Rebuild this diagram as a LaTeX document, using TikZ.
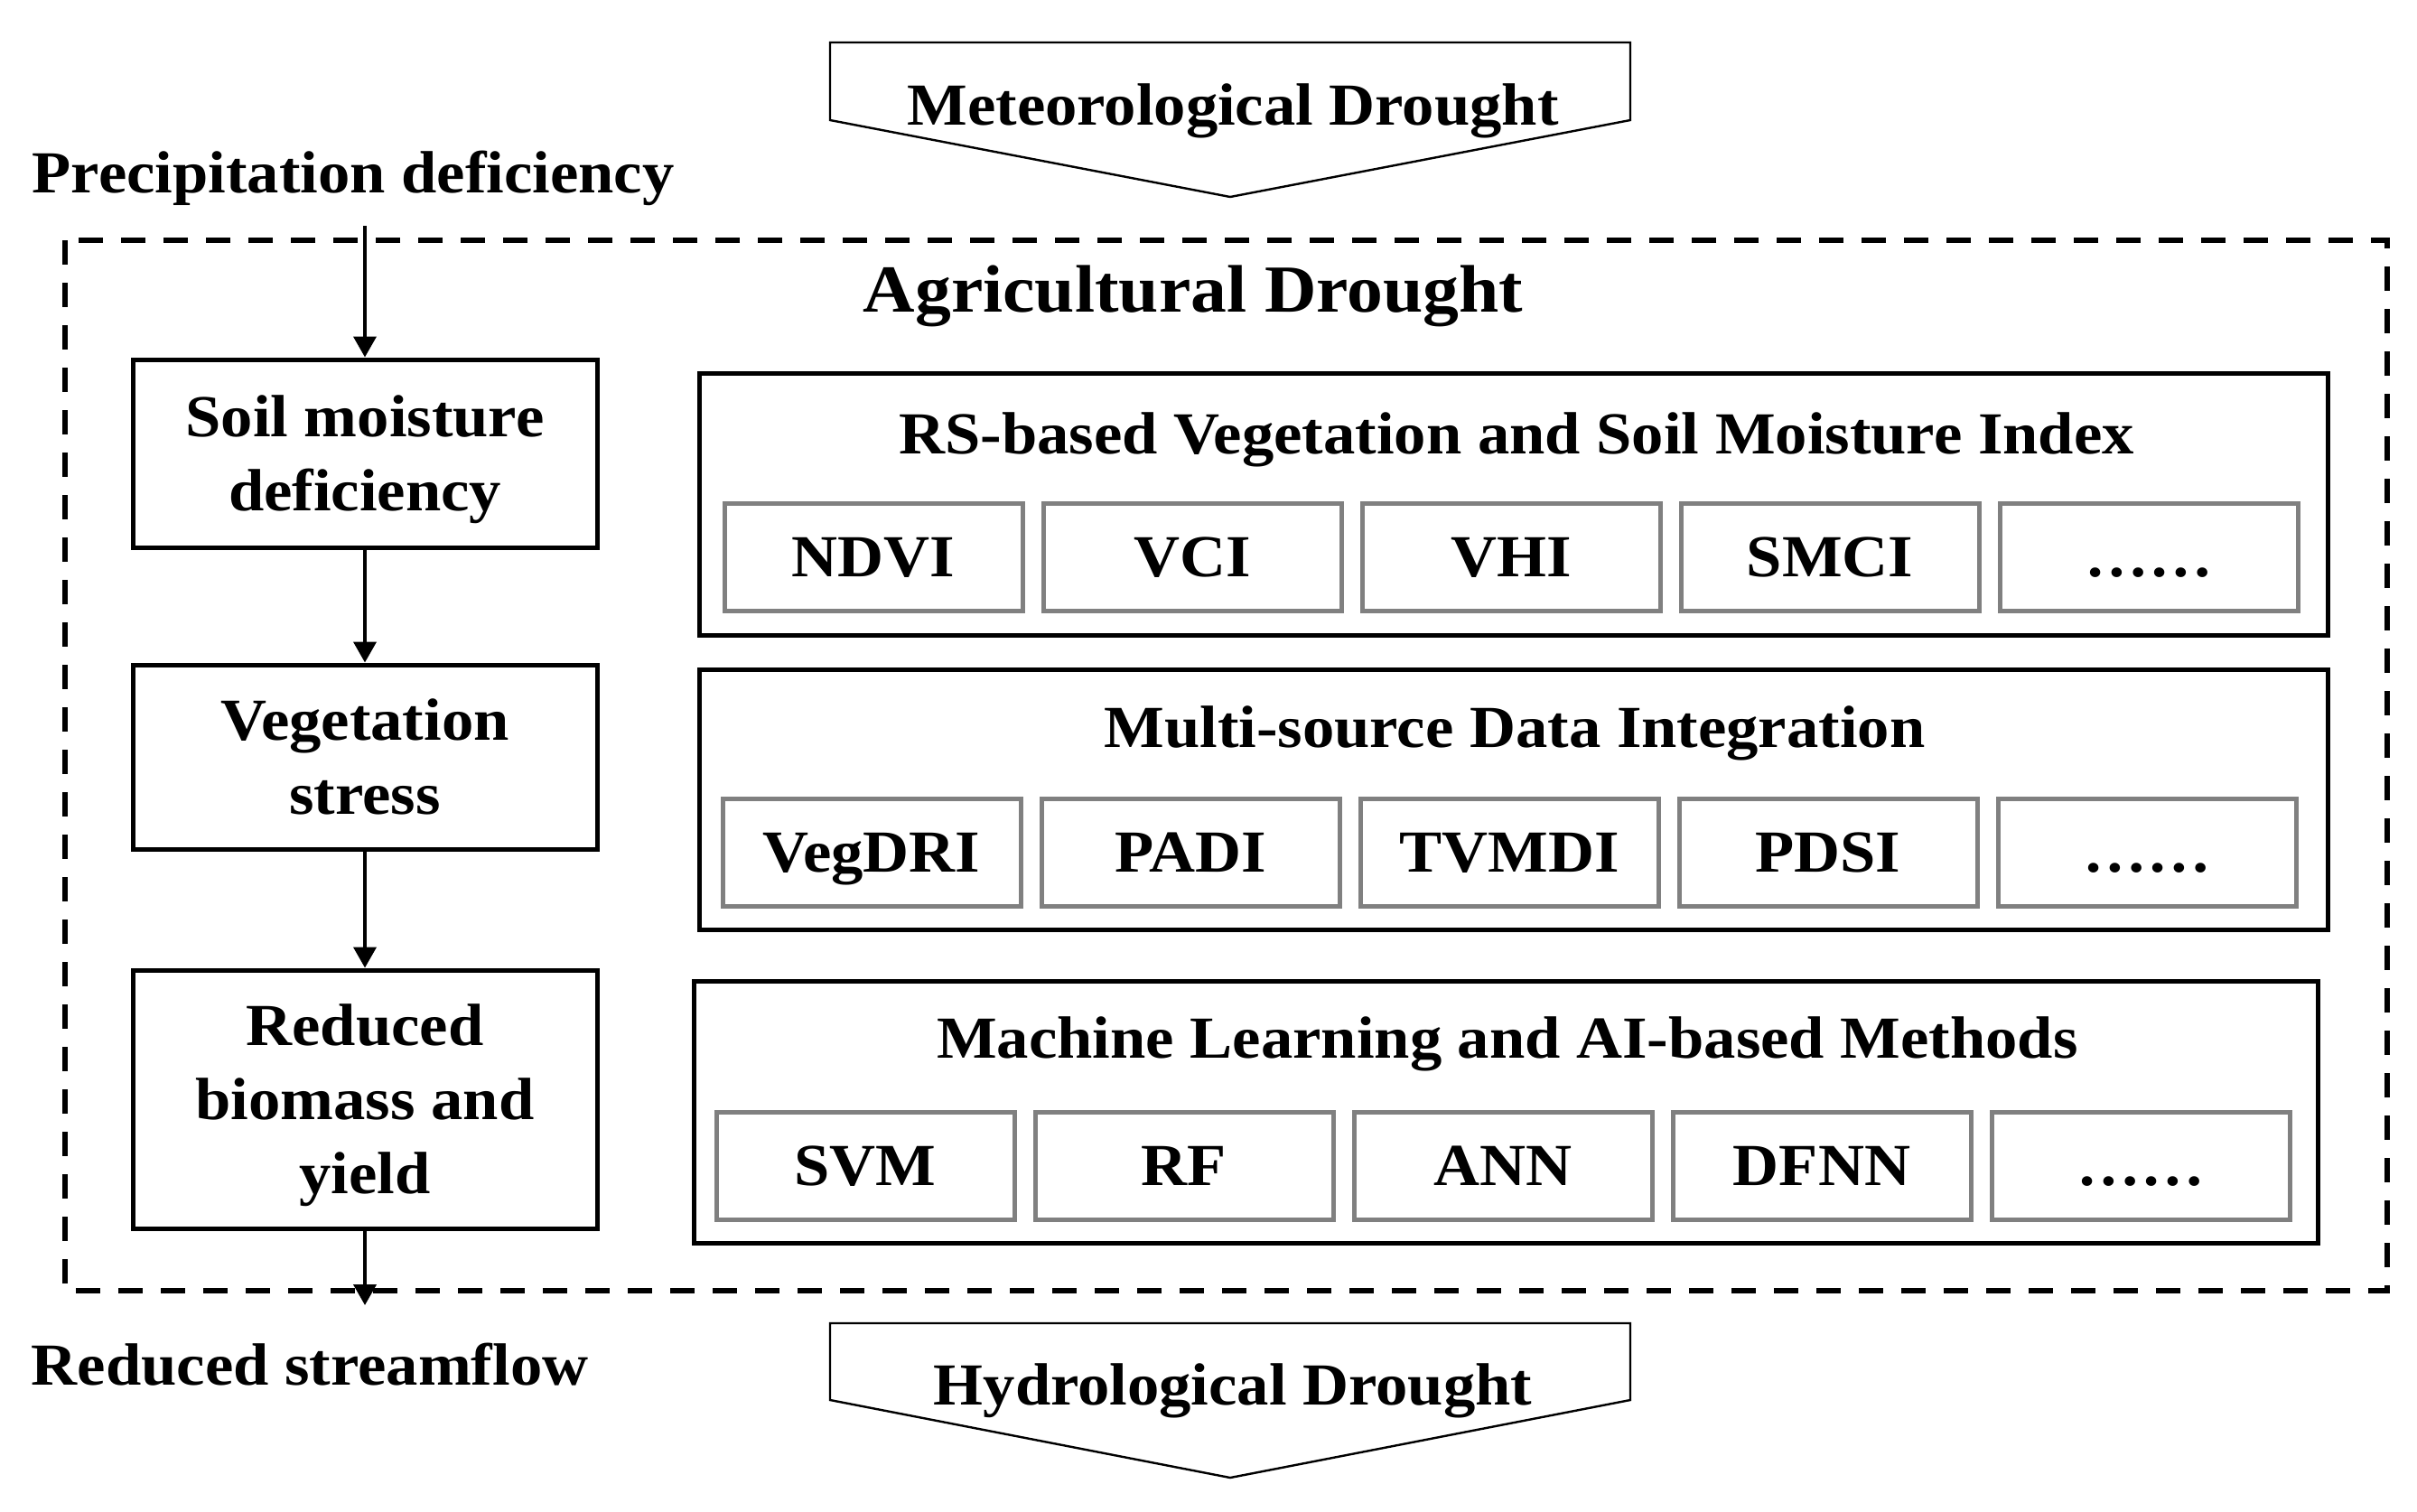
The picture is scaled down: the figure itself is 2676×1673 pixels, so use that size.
\documentclass[tikz,border=0pt]{standalone}
\usepackage{fontspec}
\setmainfont{Liberation Serif}[FakeStretch=1.07]
\usetikzlibrary{arrows.meta}
\definecolor{boxgray}{HTML}{808080}
\begin{document}
\begin{tikzpicture}[x=0.25pt, y=-0.25pt,
  font=\bfseries\fontsize{16.5}{20.5}\selectfont,
  leftbox/.style={draw, line width=1.25pt, minimum width=128.5pt, align=center, inner sep=0pt},
  groupbox/.style={draw, line width=1.25pt, inner sep=0pt},
  itembox/.style={draw=boxgray, line width=1.25pt, minimum width=82.5pt, minimum height=29.75pt,
    inner sep=0pt, text height=10.9pt, text depth=0pt},
  flowarrow/.style={-{Triangle[width=6.25pt,length=5.75pt]}, line width=1pt},
  pentline/.style={draw, line width=0.6pt},
  dashbox/.style={draw, line width=1.3pt, dash pattern=on 6.75pt off 5pt},
  bigfont/.style={font=\bfseries\fontsize{18.6}{22}\selectfont}
]
\useasboundingbox (0,0) rectangle (2676,1673);

% top and bottom drought pentagons
\draw[pentline] (919,47) -- (1805,47) -- (1805,133) -- (1362,218) -- (919,133) -- cycle;
\node[anchor=base] (met) at (1365,138) {Meteorological Drought};
\draw[pentline] (919,1465) -- (1805,1465) -- (1805,1550) -- (1362,1636) -- (919,1550) -- cycle;
\node[anchor=base] (hyd) at (1365,1555) {Hydrological Drought};

% side labels
\node[anchor=base west, inner sep=0pt] (prec) at (35,213) {Precipitation deficiency};
\node[anchor=base west, inner sep=0pt] (stream) at (34,1533) {Reduced streamflow};

% dashed frame
\draw[dashbox] (72,266) rectangle (2643,1429);
\node[anchor=base, bigfont] (agri) at (1321,345) {Agricultural Drought};

% left chain
\node[leftbox, minimum height=52pt, text depth=0pt] (b1) at (404,502) {Soil moisture\\deficiency};
\node[leftbox, minimum height=51pt] (b2) at (404,838) {Vegetation\\stress};
\node[leftbox, minimum height=71.5pt, text depth=0pt] (b3) at (404,1217) {Reduced\\biomass and\\yield};
\coordinate (a0) at (404,250);
\coordinate (a4) at (404,1445);
\draw[flowarrow] (a0) -- (b1.north);
\draw[flowarrow] (b1.south) -- (b2.north);
\draw[flowarrow] (b2.south) -- (b3.north);
\draw[flowarrow] (b3.south) -- (a4);

% group 1
\node[groupbox, minimum width=450.75pt, minimum height=72.5pt] (g1) at (1675.5,558) {};
\node[anchor=base] (g1t) at (1679,502) {RS-based Vegetation and Soil Moisture Index};
\foreach \i/\t/\x in {1/NDVI/967, 2/VCI/1320, 3/VHI/1673, 4/SMCI/2026, 5/……/2379}
  \node[itembox] (g1i\i) at (\x,616.5) {\t};

% group 2
\node[groupbox, minimum width=450.75pt, minimum height=72pt] (g2) at (1675.5,885) {};
\node[anchor=base] (g2t) at (1677,827) {Multi-source Data Integration};
\foreach \i/\t/\x in {1/VegDRI/965, 2/PADI/1318, 3/TVMDI/1671, 4/PDSI/2024, 5/……/2377}
  \node[itembox] (g2i\i) at (\x,944) {\t};

% group 3
\node[groupbox, minimum width=449.5pt, minimum height=72.5pt] (g3) at (1667,1231) {};
\node[anchor=base] (g3t) at (1669,1171) {Machine Learning and AI-based Methods};
\foreach \i/\t/\x in {1/SVM/958, 2/RF/1311, 3/ANN/1664, 4/DFNN/2017, 5/……/2370}
  \node[itembox] (g3i\i) at (\x,1291) {\t};
\end{tikzpicture}
\end{document}
